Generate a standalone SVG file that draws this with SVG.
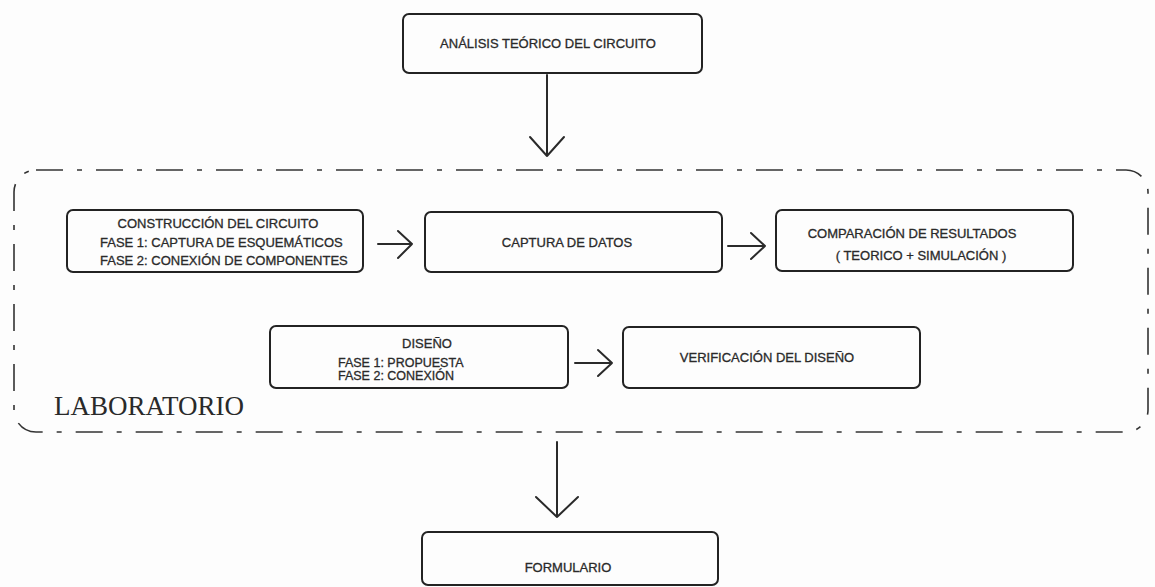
<svg xmlns="http://www.w3.org/2000/svg" width="1155" height="587" viewBox="0 0 1155 587">
<style>
.bg{fill:#fdfdfd}
.box{fill:none;stroke:#232323;stroke-width:2}
.t{font-family:"Liberation Sans",Arial,sans-serif;font-size:13px;fill:#2a2a2a;stroke:#2a2a2a;stroke-width:0.3}
.m{text-anchor:middle}
.arr{fill:none;stroke:#2a2a2a;stroke-width:2;stroke-linecap:round;stroke-linejoin:round}
.cont{fill:none;stroke:#333;stroke-width:1.6;stroke-dasharray:27 14 5 14}
.lab{font-family:"Liberation Serif","Times New Roman",serif;font-size:27px;fill:#2a2a2a}
</style>
<rect class="bg" x="0" y="0" width="1155" height="587"/>
<g id="laboratorio">
<rect class="cont" x="14" y="170" width="1134" height="262" rx="22" ry="22"/>
<text class="lab" x="54" y="415">LABORATORIO</text>
</g>
<g id="analisis">
<rect class="box" x="403" y="14" width="299" height="59" rx="6"/>
<text class="t m" x="548" y="48">ANÁLISIS TEÓRICO DEL CIRCUITO</text>
</g>
<g id="construccion">
<rect class="box" x="67" y="210" width="296" height="62" rx="6"/>
<text class="t m" x="218" y="228">CONSTRUCCIÓN DEL CIRCUITO</text>
<text class="t" x="100" y="247">FASE 1: CAPTURA DE ESQUEMÁTICOS</text>
<text class="t" x="100" y="265">FASE 2: CONEXIÓN DE COMPONENTES</text>
</g>
<g id="captura">
<rect class="box" x="425" y="212" width="297" height="60" rx="6"/>
<text class="t m" x="567" y="247">CAPTURA DE DATOS</text>
</g>
<g id="comparacion">
<rect class="box" x="776" y="210" width="297" height="61" rx="6"/>
<text class="t m" x="912" y="238">COMPARACIÓN DE RESULTADOS</text>
<text class="t m" x="921" y="260">( TEORICO + SIMULACIÓN )</text>
</g>
<g id="diseno">
<rect class="box" x="270" y="326" width="298" height="62" rx="6"/>
<text class="t m" x="427" y="348">DISEÑO</text>
<text class="t" x="338" y="367" style="font-size:12.5px">FASE 1: PROPUESTA</text>
<text class="t" x="338" y="380" style="font-size:12.5px">FASE 2: CONEXIÓN</text>
</g>
<g id="verificacion">
<rect class="box" x="623" y="327" width="297" height="61" rx="6"/>
<text class="t m" x="767" y="362">VERIFICACIÓN DEL DISEÑO</text>
</g>
<g id="formulario">
<rect class="box" x="422" y="532" width="296" height="53" rx="6"/>
<text class="t m" x="568" y="572">FORMULARIO</text>
</g>
<g id="connectors">
<path class="arr" d="M547 75 V156 M530 137 L547 156 L564 137"/>
<path class="arr" d="M378 244 H412 M398 231 L412 244 L398 258"/>
<path class="arr" d="M728 246 H765 M751 233 L765 246 L751 259"/>
<path class="arr" d="M575 363 H612 M598 350 L612 363 L598 376"/>
<path class="arr" d="M557 442 V517 M536 497 L557 517 L578 497"/>
</g>
</svg>
